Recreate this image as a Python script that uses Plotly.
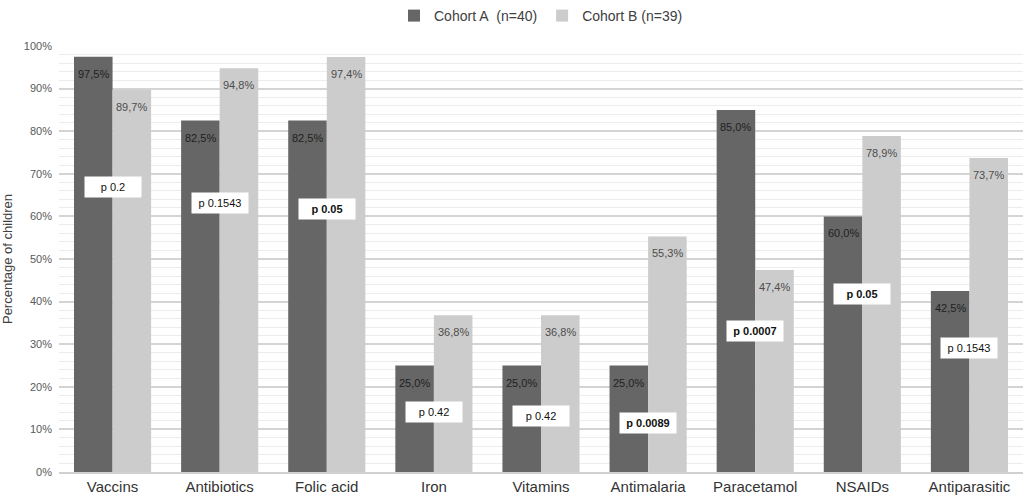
import plotly.graph_objects as go

categories = ["Vaccins", "Antibiotics", "Folic acid", "Iron", "Vitamins",
              "Antimalaria", "Paracetamol", "NSAIDs", "Antiparasitic"]
cohort_a = [97.5, 82.5, 82.5, 25.0, 25.0, 25.0, 85.0, 60.0, 42.5]
cohort_b = [89.7, 94.8, 97.4, 36.8, 36.8, 55.3, 47.4, 78.9, 73.7]
p_values = ["p 0.2", "p 0.1543", "p 0.05", "p 0.42", "p 0.42",
            "p 0.0089", "p 0.0007", "p 0.05", "p 0.1543"]
p_bold = [False, False, True, False, False, True, True, True, False]
# vertical placement of the p-value boxes (in % units)
p_box_y = [66.8, 63.2, 61.7, 14.1, 13.1, 11.5, 33.0, 41.7, 29.1]

W, H = 1025, 502
ML, MR, MT, MB = 59, 2, 46, 30
BARGAP = 0.28
BAND_PX = (W - ML - MR) / len(categories)
HALF_BAR = BAND_PX * (1 - BARGAP) / 4


def fmt(v):
    return f"{v:.1f}%".replace(".", ",")


fig = go.Figure()
fig.add_trace(go.Bar(
    x=categories, y=cohort_a, name="Cohort A\u00a0 (n=40)",
    marker=dict(color="#666666", line=dict(width=0)),
    hoverinfo="skip",
))
fig.add_trace(go.Bar(
    x=categories, y=cohort_b, name="Cohort B (n=39)",
    marker=dict(color="#cccccc", line=dict(width=0)),
    hoverinfo="skip",
))

# value labels just below the top of each bar
for vals, shift, col in [(cohort_a, -HALF_BAR, "#1f1f1f"), (cohort_b, HALF_BAR, "#4d4d4d")]:
    for cat, v in zip(categories, vals):
        fig.add_annotation(x=cat, y=v, text=fmt(v), showarrow=False,
                           xshift=shift, yshift=-17,
                           font=dict(size=11, color=col))

for cat, txt, bold, yy in zip(categories, p_values, p_bold, p_box_y):
    fig.add_annotation(
        x=cat, y=yy, text=f"<b>{txt}</b>" if bold else txt,
        showarrow=False, bgcolor="white", width=50, height=14,
        borderpad=3, font=dict(size=11, color="#111111"),
    )

fig.update_layout(
    width=W, height=H,
    margin=dict(l=ML, r=MR, t=MT, b=MB),
    plot_bgcolor="white", paper_bgcolor="white",
    font=dict(family="Liberation Sans, Arial, sans-serif", color="#404040"),
    barmode="group", bargap=BARGAP, bargroupgap=0,
    legend=dict(orientation="h", x=0.5, xanchor="center", y=1.0, yanchor="top",
                yref="container", font=dict(size=14, color="#404040"),
                itemwidth=30, traceorder="normal", tracegroupgap=0),
    xaxis=dict(tickfont=dict(size=15, color="#333333"), showgrid=False,
               showline=True, linecolor="#d0d0d0", linewidth=2, ticks="",
               automargin=False),
    yaxis=dict(range=[0, 100], dtick=10, ticksuffix="%",
               tickfont=dict(size=11, color="#595959"), ticklabelstandoff=6,
               showgrid=True, gridcolor="#d4d4d4", gridwidth=2,
               minor=dict(dtick=2, showgrid=True, gridcolor="#ececec", gridwidth=1),
               zeroline=False, automargin=False,
               title=dict(text="Percentage of children", font=dict(size=13, color="#404040"),
                          standoff=8)),
)

fig.write_html("out.html", config={"displayModeBar": False},
               post_script="document.body.style.margin='0px';")
